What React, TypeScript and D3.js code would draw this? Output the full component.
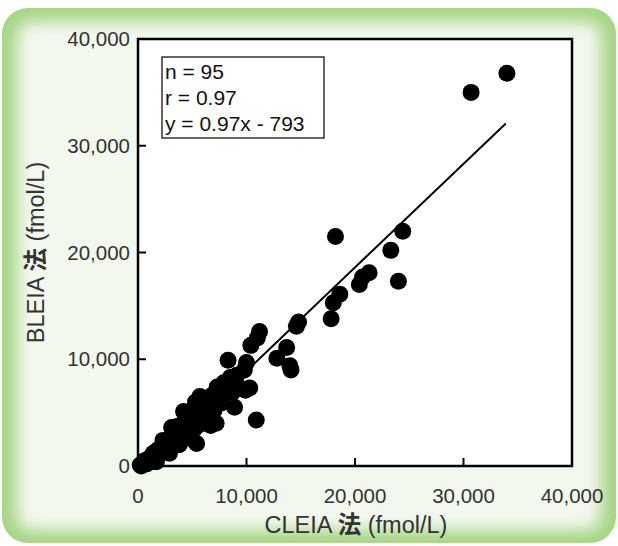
import React, { useEffect, useRef } from "react";
import * as d3 from "d3";

// CLEIA (x) vs BLEIA (y), fmol/L
const cleia = [
  34000, 30700, 24400, 18200, 23300, 21300, 20700, 20400, 24000, 18600,
  18000, 17800, 14800, 11200, 11000, 10400, 13700, 12800, 14000, 14100,
  8300, 10000, 9800, 8500, 9100, 10300, 10900, 8900, 9400, 9900,
  5700, 7600, 6600, 5400, 4600, 3600, 2300, 1400, 500, 200,
  300, 600, 800, 1000, 1200, 1500, 1800, 2000, 2200, 2500,
  2700, 3000, 3200, 3300, 3500, 3700, 3800, 4000, 4100, 4300,
  4400, 4500, 4700, 4800, 5000, 5100, 5200, 5400, 5500, 5600,
  5700, 5800, 6000, 6100, 6300, 6400, 6600, 6800, 7000, 7100,
  7300, 7500, 7700, 7900, 8000, 8200, 8700, 7200, 6700, 2900,
  1700, 4200, 5300, 3100, 14600,
];
const bleia = [
  36800, 35000, 22000, 21500, 20200, 18100, 17700, 17000, 17300, 16100,
  15300, 13800, 13500, 12600, 12000, 11300, 11100, 10100, 9400, 9000,
  9900, 9700, 9000, 8300, 8500, 7300, 4300, 5500, 7300, 7100,
  6500, 7100, 5000, 2100, 4000, 3700, 2400, 1200, 300, 100,
  0, 500, 200, 700, 400, 900, 1500, 1100, 1800, 2000,
  1600, 2600, 2300, 3100, 2800, 3300, 2000, 3600, 3000, 4200,
  3300, 2600, 4500, 3800, 4800, 4100, 3500, 5300, 4600, 6200,
  3900, 5500, 4900, 6000, 5400, 4400, 5900, 6600, 5200, 6300,
  7400, 6800, 5900, 7800, 6900, 7600, 6900, 4000, 3800, 1200,
  400, 5100, 6000, 3600, 13100,
];
const ticks = [0, 10000, 20000, 30000, 40000];
const statLines = ["n = 95", "r = 0.97", "y = 0.97x - 793"];
const slope = 0.97;
const intercept = -793;
const fitRange = [700, 33900];

const FONT = "'Liberation Sans', Arial, Helvetica, sans-serif";
const CJK = "'Noto Sans CJK JP', 'Noto Sans CJK SC', sans-serif";

function App() {
  const ref = useRef<SVGSVGElement>(null);

  useEffect(() => {
    const W = 618, H = 546;
    const m = { left: 138, right: 572, top: 39, bottom: 466 };
    const svg = d3.select(ref.current);
    svg.selectAll("*").remove();

    const x = d3.scaleLinear().domain([0, 40000]).range([m.left, m.right]);
    const y = d3.scaleLinear().domain([0, 40000]).range([m.bottom, m.top]);
    const fmt = d3.format(",");

    // green rounded frame with soft inner glow
    const defs = svg.append("defs");
    defs.append("clipPath").attr("id", "frameClip")
      .append("rect").attr("x", 2).attr("y", 8).attr("width", 614).attr("height", 535).attr("rx", 26);
    defs.append("filter").attr("id", "blur")
      .attr("x", "-10%").attr("y", "-10%").attr("width", "120%").attr("height", "120%")
      .append("feGaussianBlur").attr("stdDeviation", 8);

    const frame = svg.append("g").attr("clip-path", "url(#frameClip)");
    frame.append("rect").attr("x", 0).attr("y", 0).attr("width", W).attr("height", H).attr("fill", "#a6d585");
    frame.append("rect")
      .attr("x", 17).attr("y", 22).attr("width", 584).attr("height", 508).attr("rx", 14)
      .attr("fill", "#f3f8ef").attr("filter", "url(#blur)");

    // plot area
    svg.append("rect")
      .attr("x", m.left).attr("y", m.top)
      .attr("width", m.right - m.left).attr("height", m.bottom - m.top)
      .attr("fill", "#fff");

    // points
    const pts = cleia.map((c, i) => [c, bleia[i]]);
    svg.append("g").selectAll("circle").data(pts).enter().append("circle")
      .attr("cx", d => x(d[0])).attr("cy", d => y(d[1])).attr("r", 8.5)
      .attr("fill", "#000");

    // regression line
    const line = d3.line<number>().x(d => x(d)).y(d => y(slope * d + intercept));
    svg.append("path").datum(fitRange).attr("d", line)
      .attr("fill", "none").attr("stroke", "#000").attr("stroke-width", 2);

    // border
    svg.append("rect")
      .attr("x", m.left).attr("y", m.top)
      .attr("width", m.right - m.left).attr("height", m.bottom - m.top)
      .attr("fill", "none").attr("stroke", "#000").attr("stroke-width", 2.5);

    // inner ticks
    const inner = ticks.slice(1, -1);
    svg.append("g").selectAll("line").data(inner).enter().append("line")
      .attr("x1", d => x(d)).attr("x2", d => x(d))
      .attr("y1", m.bottom).attr("y2", m.bottom - 8)
      .attr("stroke", "#000").attr("stroke-width", 2);
    svg.append("g").selectAll("line").data(inner).enter().append("line")
      .attr("y1", d => y(d)).attr("y2", d => y(d))
      .attr("x1", m.left).attr("x2", m.left + 8)
      .attr("stroke", "#000").attr("stroke-width", 2);

    // tick labels
    svg.append("g").selectAll("text").data(ticks).enter().append("text")
      .attr("x", d => x(d)).attr("y", 503)
      .attr("text-anchor", "middle")
      .attr("font-family", FONT).attr("font-size", 20.5).attr("fill", "#333")
      .text(d => fmt(d));
    svg.append("g").selectAll("text").data(ticks).enter().append("text")
      .attr("x", 130).attr("y", d => y(d) + 7)
      .attr("text-anchor", "end")
      .attr("font-family", FONT).attr("font-size", 20.5).attr("fill", "#333")
      .text(d => fmt(d));

    // axis titles
    const xt = svg.append("text")
      .attr("x", (m.left + m.right) / 2 + 1).attr("y", 533)
      .attr("text-anchor", "middle")
      .attr("font-family", FONT).attr("font-size", 23.5).attr("fill", "#333");
    xt.append("tspan").text("CLEIA ");
    xt.append("tspan").attr("font-family", CJK).attr("font-weight", "bold").text("法");
    xt.append("tspan").text(" (fmol/L)");

    const yt = svg.append("text")
      .attr("transform", `translate(44,${(m.top + m.bottom) / 2}) rotate(-90)`)
      .attr("text-anchor", "middle")
      .attr("font-family", FONT).attr("font-size", 23.5).attr("fill", "#333");
    yt.append("tspan").text("BLEIA ");
    yt.append("tspan").attr("font-family", CJK).attr("font-weight", "bold").text("法");
    yt.append("tspan").text(" (fmol/L)");

    // stats box
    svg.append("rect")
      .attr("x", 162).attr("y", 57).attr("width", 162).attr("height", 81)
      .attr("fill", "#fff").attr("stroke", "#000").attr("stroke-width", 1.2);
    svg.append("g").selectAll("text").data(statLines).enter().append("text")
      .attr("x", 165).attr("y", (d, i) => 79 + i * 26)
      .attr("font-family", FONT).attr("font-size", 21).attr("fill", "#111")
      .text(d => d);
  }, []);

  return (
    <svg ref={ref} width={618} height={546}
      style={{ position: "absolute", left: 0, top: 0, display: "block" }} />
  );
}

export default App;
